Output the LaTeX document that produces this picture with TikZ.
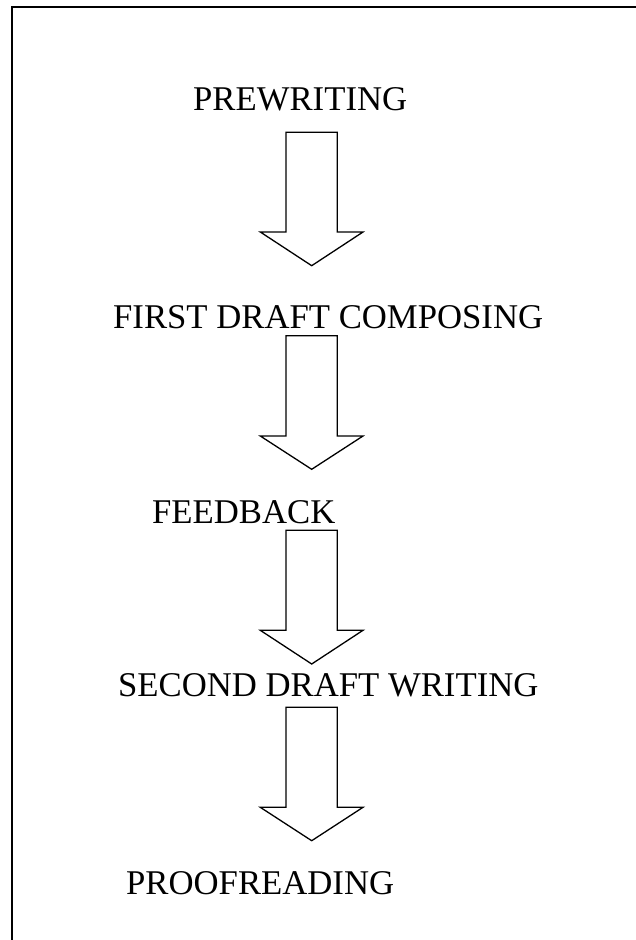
\documentclass[tikz,border=0pt]{standalone}
\usepackage{fontspec}
\setmainfont{Liberation Serif}
\tikzset{
  label/.style={anchor=base west, inner sep=0pt, font=\fontsize{34.7pt}{40pt}\selectfont},
  blockarrow/.style={draw=black, line width=1.3pt, line join=miter, fill=white},
  frame/.style={draw=black, line width=2.2pt}
}
\newcommand{\downblock}[3]{%
  % #1 top y, #2 shoulder y, #3 tip y
  \draw[blockarrow] (286,#1) -- (337.3,#1) -- (337.3,#2) -- (363,#2) -- (311.7,#3) -- (260.3,#2) -- (286,#2) -- cycle;}
\begin{document}
\begin{tikzpicture}[x=1pt,y=-1pt]
\useasboundingbox (0,0) rectangle (636,940);
\clip (0,0) rectangle (636,940);
\draw[frame] (660,7) -- (12,7) -- (12,960);
\node[label] (pre) at (193,110.7) {PREWRITING};
\node[label] (fdc) at (113,328.5) {FIRST DRAFT COMPOSING};
\node[label] (fb) at (152,523) {FEEDBACK};
\node[label] (sdw) at (118,696) {SECOND DRAFT WRITING};
\node[label] (pr) at (126,894) {PROOFREADING};
\downblock{132.3}{232}{265.7}
\downblock{335.7}{436}{469.3}
\downblock{530.3}{630.3}{664}
\downblock{707.3}{807.3}{840.7}
\end{tikzpicture}
\end{document}
